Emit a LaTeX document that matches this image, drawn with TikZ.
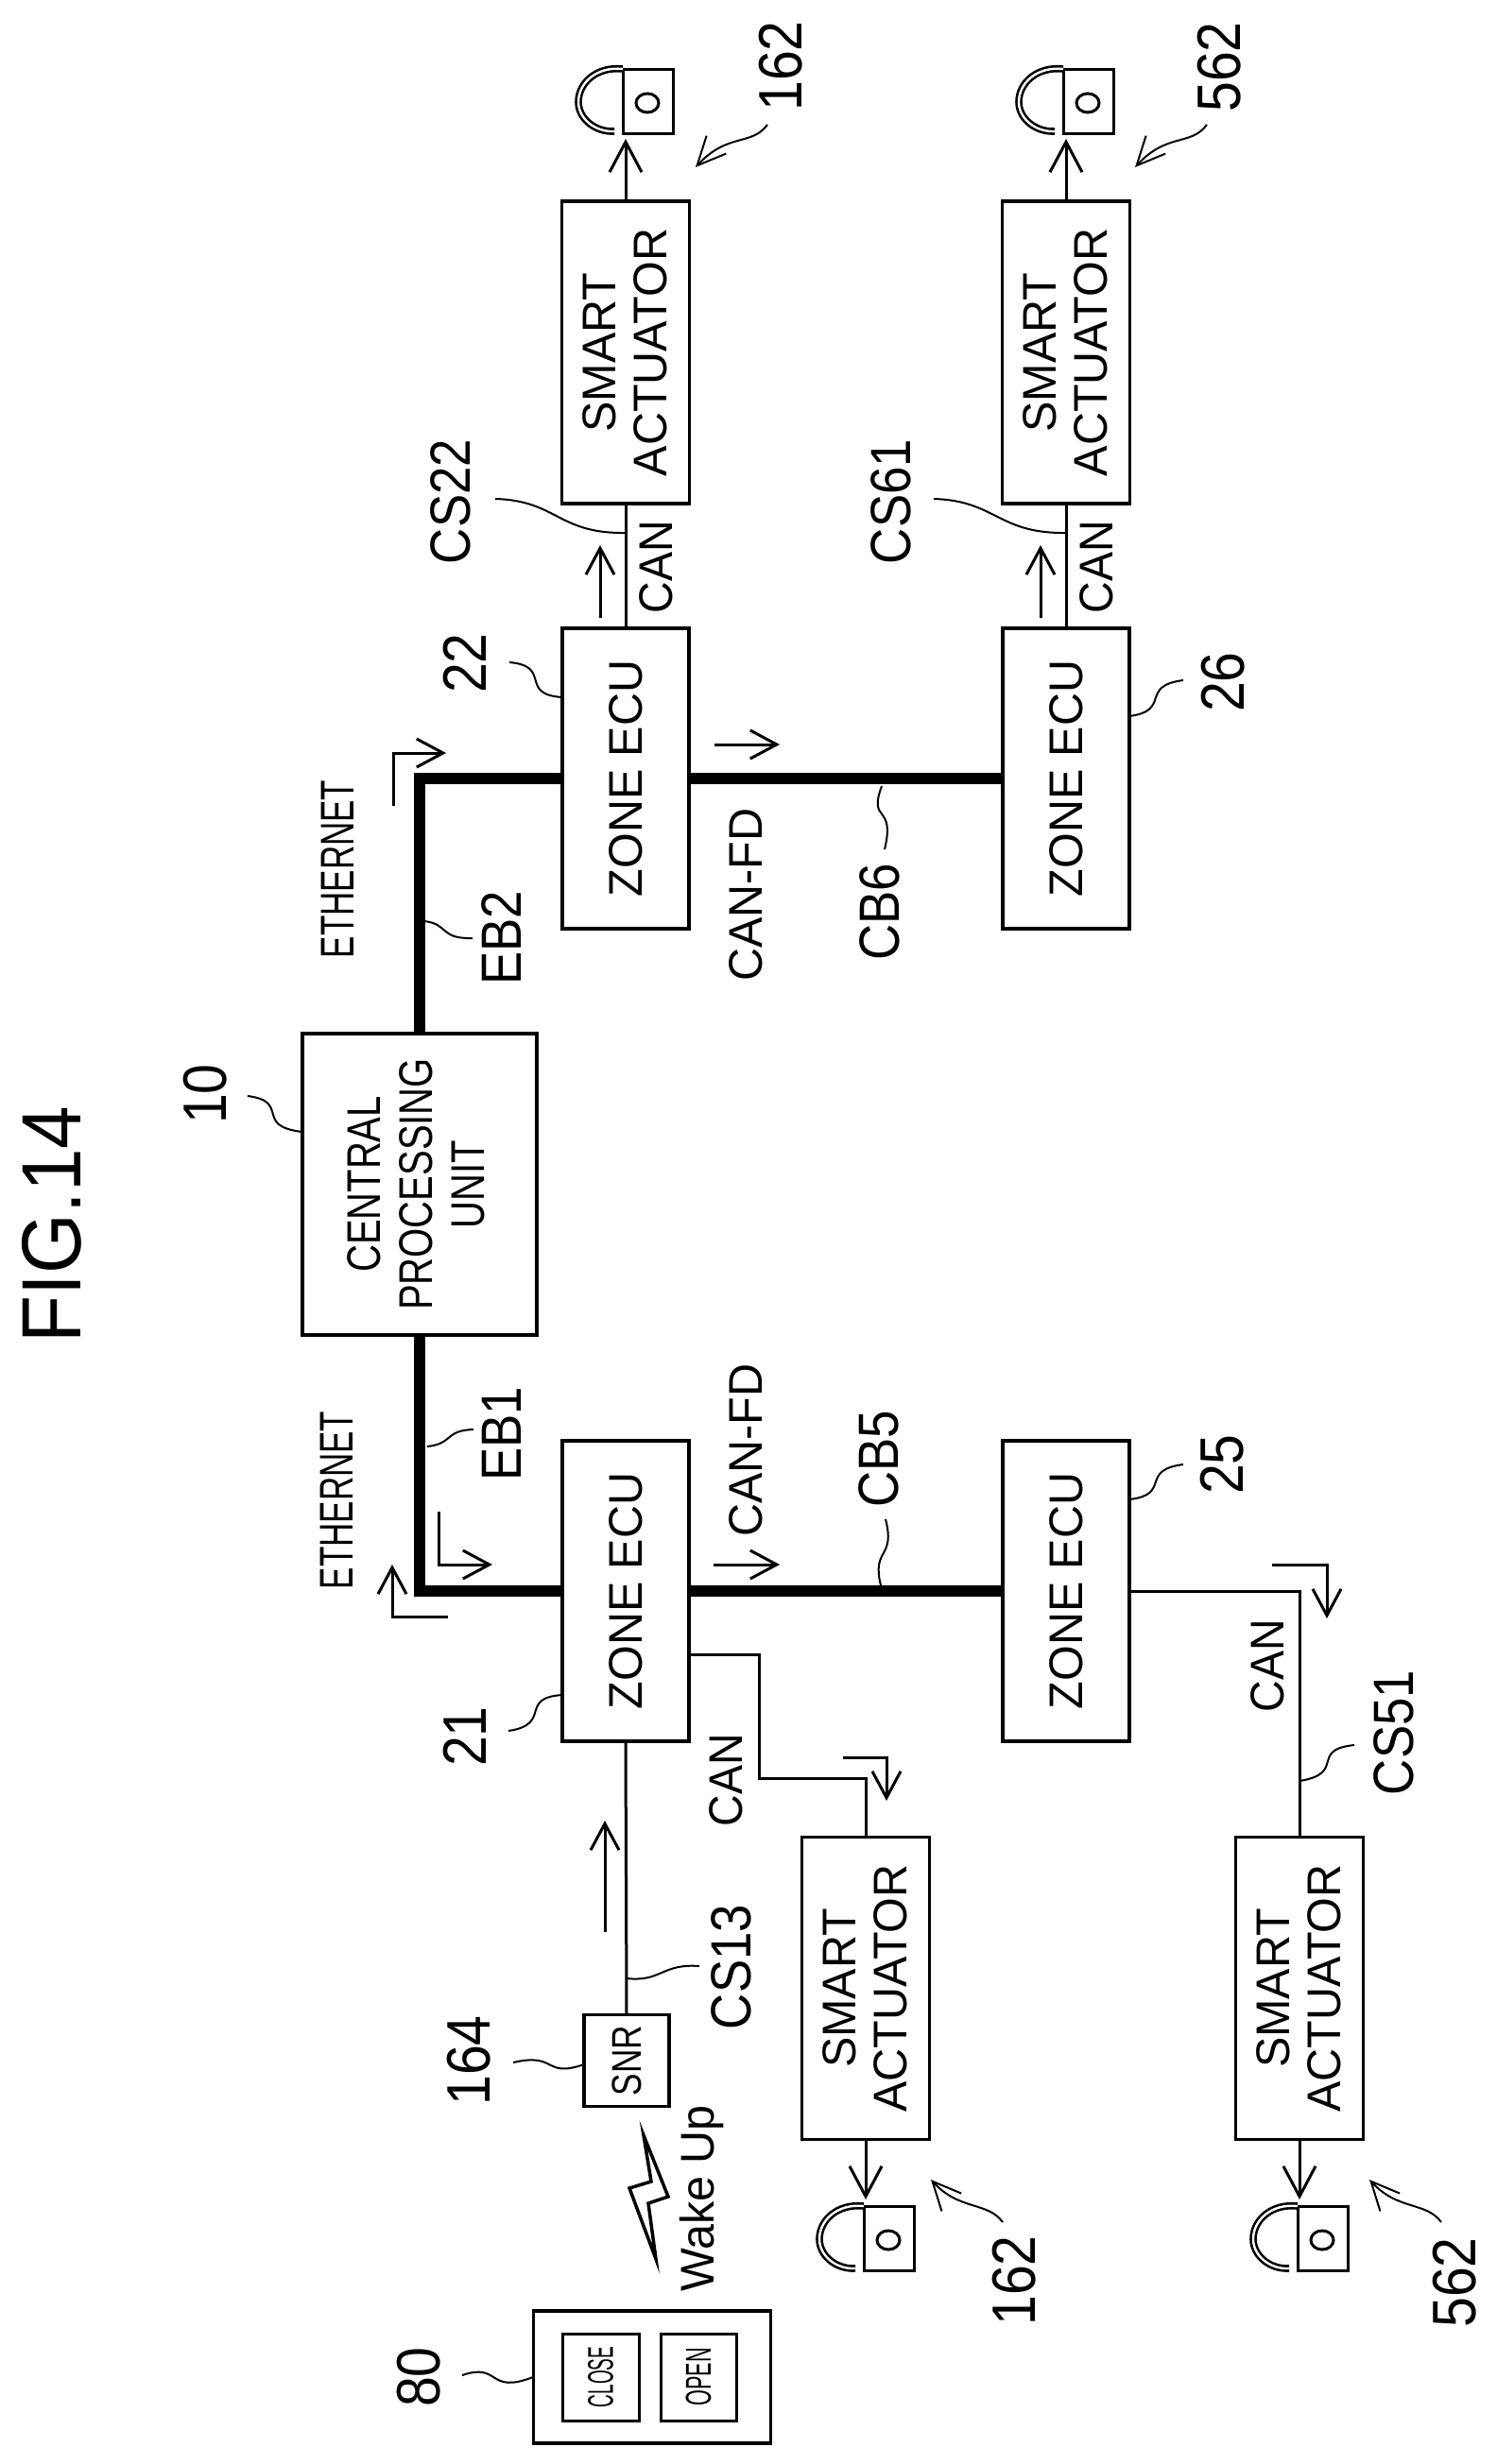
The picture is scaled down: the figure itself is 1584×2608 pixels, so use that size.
\documentclass[tikz,border=0pt]{standalone}
\usepackage{fontspec}
\usepackage{graphicx}
\usetikzlibrary{arrows.meta}
\setmainfont{Liberation Sans}
\newfontfamily\fBox[FakeStretch=0.97]{Liberation Sans}
\newfontfamily\fCan[FakeStretch=0.93]{Liberation Sans}
\newfontfamily\fCpu[FakeStretch=0.80]{Liberation Sans}
\newfontfamily\fEth[FakeStretch=0.70]{Liberation Sans}
\newfontfamily\fNum[FakeStretch=0.88]{Liberation Sans}
\newfontfamily\fFig[FakeStretch=0.92]{Liberation Sans}
\newfontfamily\fClose[FakeStretch=0.50]{Liberation Sans}
\newfontfamily\fOpen[FakeStretch=0.57]{Liberation Sans}
\newcommand{\rotstack}[2][-6pt]{\rotatebox{90}{\raisebox{#1}[\height][\depth]{\begin{tabular}{@{}c@{}}#2\end{tabular}}}}
\tikzset{
  ubox/.style={draw=black,line width=3.5pt,fill=white,inner sep=0pt,outer sep=0pt,align=center},
  zonebox/.style={ubox,minimum width=134pt,minimum height=318pt,font=\fBox\fontsize{50}{54}\selectfont},
  actbox/.style={ubox,minimum width=135pt,minimum height=320pt,font=\fBox\fontsize{50}{54}\selectfont},
  wire/.style={draw=black,line width=3pt},
  bus/.style={draw=black,line width=12pt,line join=miter},
  sig/.style={draw=black,line width=3pt,-{Straight Barb[length=28pt,width=30pt]}},
  sigbig/.style={draw=black,line width=3pt,-{Straight Barb[length=32pt,width=34pt]}},
  lead/.style={draw=black,line width=2pt},
  leadarrow/.style={draw=black,line width=2pt,-{Straight Barb[length=30pt,width=28pt]}},
  numtext/.style={rotate=90,inner sep=0pt,font=\fNum\fontsize{65}{70}\selectfont},
  reftext/.style={rotate=90,inner sep=0pt,font=\fNum\fontsize{60}{64}\selectfont},
  cantext/.style={rotate=90,inner sep=0pt,font=\fCan\fontsize{50}{54}\selectfont},
  fdtext/.style={rotate=90,inner sep=0pt,font=\fBox\fontsize{50}{54}\selectfont},
  ethtext/.style={rotate=90,inner sep=0pt,font=\fEth\fontsize{50}{54}\selectfont},
}
\newcommand{\padlock}[3]{%
  \begin{scope}[shift={(#2,#3)}]
    \node[draw=black,line width=3pt,minimum width=53pt,minimum height=68pt,inner sep=0pt,outer sep=0pt] (#1) at (26.5,34) {};
    \draw[draw=black,line width=2.6pt,double=white,double distance=2.4pt] (0,0) .. controls (-28,-3) and (-47,15) .. (-47,35) .. controls (-47,52) and (-30,67) .. (-9,66);
    \draw[draw=black,line width=3pt] (26,36) ellipse (12pt and 10pt);
  \end{scope}}
\begin{document}
\begin{tikzpicture}[x=1pt,y=-1pt]
\useasboundingbox[fill=white] (0,0) rectangle (1584,2608);

% title
\node[rotate=90,inner sep=0pt,font=\fFig\fontsize{89}{94}\selectfont] (title) at (55,1296) {FIG.14};

% boxes
\node[ubox,minimum width=248pt,minimum height=319pt,font=\fCpu\fontsize{50}{55}\selectfont] (cpu) at (444,1253.5) {\rotstack[-2pt]{CENTRAL\\PROCESSING\\UNIT}};
\node[zonebox] (z22) at (662,824) {\rotatebox{90}{ZONE ECU}};
\node[zonebox] (z26) at (1128,824) {\rotatebox{90}{ZONE ECU}};
\node[zonebox] (z21) at (662,1684) {\rotatebox{90}{ZONE ECU}};
\node[zonebox] (z25) at (1128,1684) {\rotatebox{90}{ZONE ECU}};
\node[actbox] (a22) at (662,373) {\rotstack{SMART\\ACTUATOR}};
\node[actbox] (a61) at (1128,373) {\rotstack{SMART\\ACTUATOR}};
\node[actbox] (a12) at (916,2104.5) {\rotstack{SMART\\ACTUATOR}};
\node[actbox] (a51) at (1375,2104.5) {\rotstack{SMART\\ACTUATOR}};
\node[ubox,minimum width=90pt,minimum height=97pt,font=\fCpu\fontsize{44}{48}\selectfont] (snr) at (663,2181) {\rotatebox{90}{SNR}};
\node[ubox,minimum width=251pt,minimum height=140pt] (remote) at (690,2516) {};
\node[ubox,line width=3pt,minimum width=81pt,minimum height=92pt,font=\fClose\fontsize{38}{40}\selectfont] (close) at (635.5,2516) {\rotatebox{90}{CLOSE}};
\node[ubox,line width=3pt,minimum width=80pt,minimum height=92pt,font=\fOpen\fontsize{38}{40}\selectfont] (open) at (739,2516) {\rotatebox{90}{OPEN}};

% locks
\padlock{lock22}{659}{73}
\padlock{lock61}{1125}{73}
\padlock{lock12}{914}{2335}
\padlock{lock51}{1373}{2335}

% buses
\draw[bus] (cpu.north) |- (z22.west);
\draw[bus] (z22.east) -- (z26.west);
\draw[bus] (cpu.south) |- (z21.west);
\draw[bus] (z21.east) -- (z25.west);

% CAN wires
\draw[wire] (z22.north) -- (a22.south);
\draw[wire] (z26.north) -- (a61.south);
\draw[wire] (z21.south) -- (snr.north);
\coordinate (branch1) at (729,1751);
\coordinate (branch2) at (803,1751);
\coordinate (branch3) at (803,1882);
\draw[wire,line join=miter] (branch1) -- (branch2) -- (branch3) -| (a12.north);
\draw[wire,line join=miter] (z25.east) -| (a51.north);

% actuator to lock
\draw[sigbig,shorten >=6pt] (a22.north) -- (a22.north |- lock22.south);
\draw[sigbig,shorten >=6pt] (a61.north) -- (a61.north |- lock61.south);
\draw[sigbig,shorten >=7pt] (a12.south) -- (a12.south |- lock12.north);
\draw[sigbig,shorten >=7pt] (a51.south) -- (a51.south |- lock51.north);

% signal arrows
\coordinate (s1a) at (635,654); \coordinate (s1b) at (635,577);
\draw[sig] (s1a) -- (s1b);
\coordinate (s2a) at (1101,654); \coordinate (s2b) at (1101,577);
\draw[sig] (s2a) -- (s2b);
\coordinate (s3a) at (756,788); \coordinate (s3b) at (825,788);
\draw[sig] (s3a) -- (s3b);
\coordinate (s4a) at (755,1656); \coordinate (s4b) at (825,1656);
\draw[sig] (s4a) -- (s4b);
\coordinate (s5a) at (640,2045); \coordinate (s5b) at (640,1927);
\draw[sig] (s5a) -- (s5b);
\coordinate (l1a) at (416,853); \coordinate (l1b) at (416,797); \coordinate (l1c) at (472,797);
\draw[sig,line join=miter] (l1a) -- (l1b) -- (l1c);
\coordinate (l2a) at (464,1600); \coordinate (l2b) at (464,1656); \coordinate (l2c) at (521,1656);
\draw[sig,line join=miter] (l2a) -- (l2b) -- (l2c);
\coordinate (l3a) at (474,1711); \coordinate (l3b) at (415,1711); \coordinate (l3c) at (415,1656);
\draw[sig,line join=miter] (l3a) -- (l3b) -- (l3c);
\coordinate (l4a) at (892,1860); \coordinate (l4b) at (938,1860); \coordinate (l4c) at (938,1906);
\draw[sig,line join=miter] (l4a) -- (l4b) -- (l4c);
\coordinate (l5a) at (1346,1656); \coordinate (l5b) at (1404,1656); \coordinate (l5c) at (1404,1713);
\draw[sig,line join=miter] (l5a) -- (l5b) -- (l5c);

% text labels
\node[cantext] (can22) at (694,600) {CAN};
\node[cantext] (can61) at (1160,600) {CAN};
\node[cantext] (can12) at (768,1884) {CAN};
\node[cantext] (can51) at (1341,1763) {CAN};
\node[fdtext] (fd1) at (789,947) {CAN-FD};
\node[fdtext] (fd2) at (789,1535) {CAN-FD};
\node[ethtext] (eth2) at (357,920) {ETHERNET};
\node[ethtext] (eth1) at (356,1588) {ETHERNET};
\node[reftext] (eb2) at (531,993) {EB2};
\node[reftext] (eb1) at (531,1518) {EB1};
\node[reftext] (cb6) at (931,965) {CB6};
\node[reftext] (cb5) at (930,1544) {CB5};
\node[reftext] (cs22) at (477,531) {CS22};
\node[reftext] (cs61) at (943,531) {CS61};
\node[reftext] (cs13) at (774,2082) {CS13};
\node[reftext] (cs51) at (1475,1834) {CS51};
\node[numtext] (n10) at (217,1158) {10};
\node[numtext] (n22) at (492,702) {22};
\node[numtext] (n26) at (1294,722) {26};
\node[numtext] (n21) at (492,1838) {21};
\node[numtext] (n25) at (1293,1550) {25};
\node[numtext] (n164) at (496,2181) {164};
\node[numtext] (n80) at (443,2516) {80};
\node[numtext] (n162a) at (826,70) {162};
\node[numtext] (n562a) at (1290,71) {562};
\node[numtext] (n162b) at (1073,2414) {162};
\node[numtext] (n562b) at (1539,2416) {562};
\node[rotate=90,anchor=base,inner sep=0pt,font=\fBox\fontsize{50}{54}\selectfont] (wake) at (755,2327) {Wake Up};

% lightning
\draw[draw=black,line width=3.5pt,line join=miter,fill=white] (681,2260) -- (707,2325) -- (686,2332) -- (694,2391) -- (666,2316) -- (689,2309) -- cycle;

% leaders
\coordinate (q10a) at (262,1160); \coordinate (q10b) at (320,1198);
\draw[lead] (q10a) .. controls (308,1166) and (268,1192) .. (q10b);
\coordinate (q22a) at (539,701); \coordinate (q22b) at (595,738);
\draw[lead] (q22a) .. controls (585,705) and (548,735) .. (q22b);
\coordinate (q21a) at (538,1832); \coordinate (q21b) at (595,1794);
\draw[lead] (q21a) .. controls (585,1825) and (548,1797) .. (q21b);
\coordinate (q25a) at (1252,1550); \coordinate (q25b) at (1195,1587);
\draw[lead] (q25a) .. controls (1205,1556) and (1240,1582) .. (q25b);
\coordinate (q26a) at (1252,720); \coordinate (q26b) at (1195,758);
\draw[lead] (q26a) .. controls (1205,726) and (1240,752) .. (q26b);
\coordinate (qe1a) at (452,1531); \coordinate (qe1b) at (501,1513);
\draw[lead] (qe1a) .. controls (480,1528) and (470,1514) .. (qe1b);
\coordinate (qe2a) at (449,975); \coordinate (qe2b) at (500,993);
\draw[lead] (qe2a) .. controls (475,978) and (465,994) .. (qe2b);
\coordinate (qb5a) at (937,1608); \coordinate (qb5b) at (932,1678);
\draw[lead] (qb5a) .. controls (948,1650) and (922,1638) .. (qb5b);
\coordinate (qb6a) at (933,832); \coordinate (qb6b) at (936,899);
\draw[lead] (qb6a) .. controls (918,872) and (948,850) .. (qb6b);
\coordinate (qs13a) at (740,2081); \coordinate (qs13b) at (663,2094);
\draw[lead] (qs13a) .. controls (700,2078) and (700,2098) .. (qs13b);
\coordinate (qs51a) at (1433,1847); \coordinate (qs51b) at (1375,1885);
\draw[lead] (qs51a) .. controls (1385,1852) and (1425,1877) .. (qs51b);
\coordinate (qs22a) at (524,528); \coordinate (qs22b) at (662,564);
\draw[lead] (qs22a) .. controls (590,530) and (590,565) .. (qs22b);
\coordinate (qs61a) at (988,528); \coordinate (qs61b) at (1128,564);
\draw[lead] (qs61a) .. controls (1054,530) and (1056,565) .. (qs61b);
\coordinate (q164a) at (543,2183); \coordinate (q164b) at (618,2185);
\draw[lead] (q164a) .. controls (590,2172) and (575,2200) .. (q164b);
\coordinate (q80a) at (489,2514); \coordinate (q80b) at (564,2516);
\draw[lead] (q80a) .. controls (530,2500) and (515,2535) .. (q80b);
\coordinate (r162a) at (812,132); \coordinate (r162b) at (736,177);
\draw[leadarrow] (r162a) .. controls (795,155) and (770,140) .. (r162b);
\coordinate (r562a) at (1277,132); \coordinate (r562b) at (1201,177);
\draw[leadarrow] (r562a) .. controls (1260,155) and (1235,140) .. (r562b);
\coordinate (r162c) at (1061,2352); \coordinate (r162d) at (985,2307);
\draw[leadarrow] (r162c) .. controls (1045,2330) and (1015,2340) .. (r162d);
\coordinate (r562c) at (1525,2352); \coordinate (r562d) at (1449,2307);
\draw[leadarrow] (r562c) .. controls (1509,2330) and (1479,2340) .. (r562d);
\end{tikzpicture}
\end{document}
